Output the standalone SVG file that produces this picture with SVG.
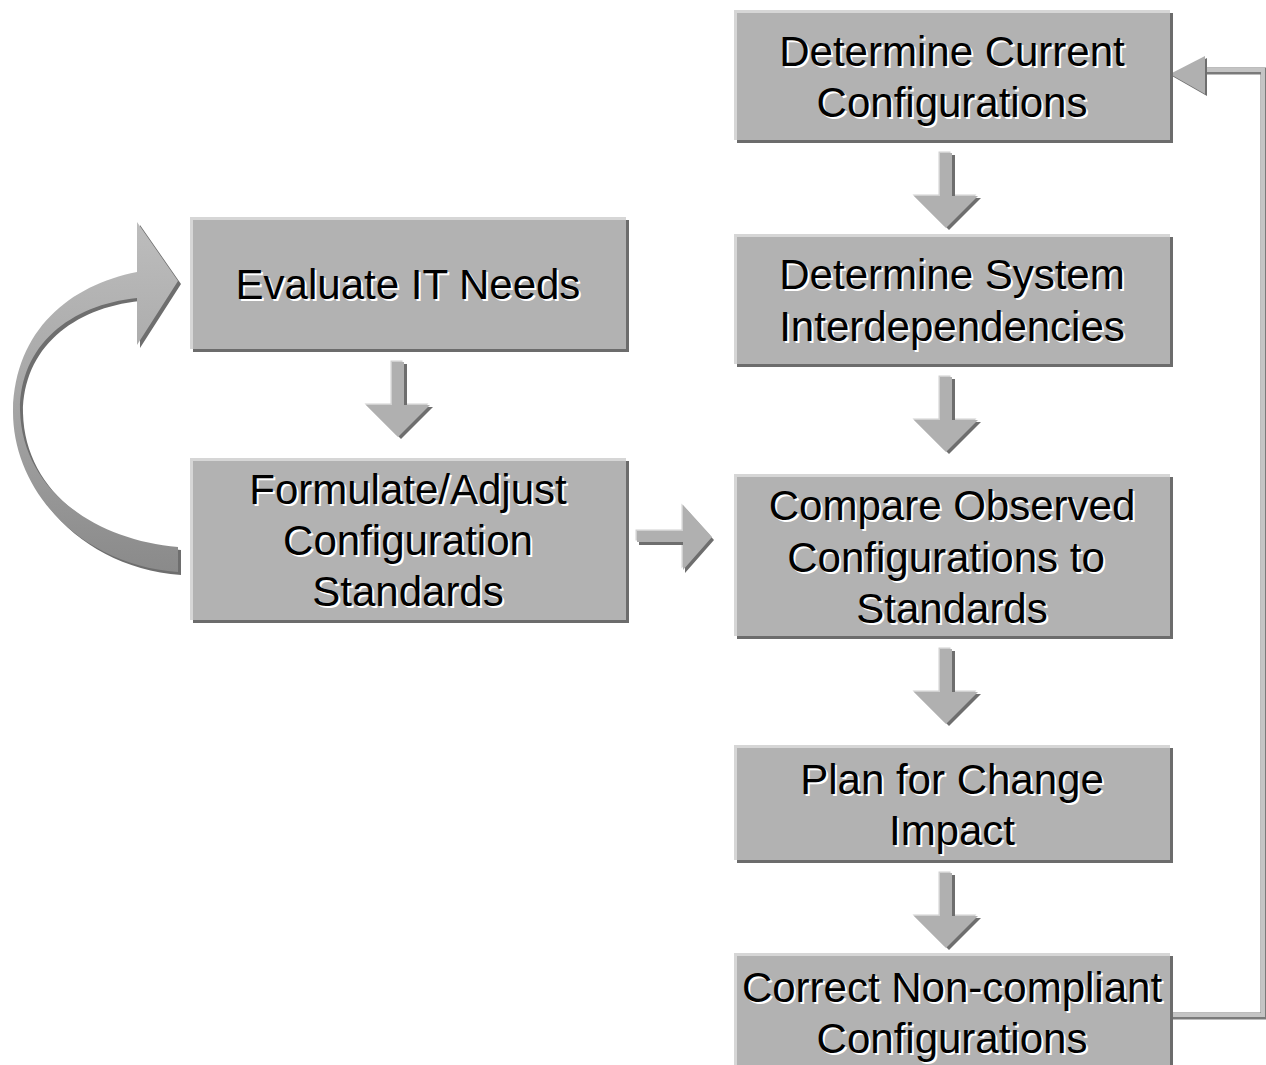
<svg xmlns="http://www.w3.org/2000/svg" width="1266" height="1065" viewBox="0 0 1266 1065">
<defs>
<style>
.sh{fill:#6c6c6c}
.bx{fill:#b2b2b2}
.hl{stroke:#d6d6d6;stroke-width:3;fill:none}
.t{font-family:"Liberation Sans",Arial,sans-serif;font-size:42px;text-anchor:middle}
.tw{fill:#ffffff}
.tb{fill:#000000}
.ar{fill:#b0b0b0}
.ad{fill:#6e6e6e}
.al{fill:#d0d0d0}
</style>
<linearGradient id="cg" x1="0" y1="0" x2="0" y2="1">
<stop offset="0" stop-color="#bdbdbd"/>
<stop offset="0.5" stop-color="#a6a6a6"/>
<stop offset="1" stop-color="#8a8a8a"/>
</linearGradient>
<path id="da" d="M-6,0 L6,0 L6,43 L32,43 L0,75 L-32,43 L-6,43Z"/>
<path id="ra" d="M0,-6 L46,-6 L46,-32 L75,0 L46,33 L46,5 L0,5Z"/>
</defs>
<rect width="1266" height="1065" fill="#ffffff"/>

<g id="connectors">
<!-- feedback line -->
<polyline points="1170,1016 1264,1016 1264,71 1205,71" fill="none" stroke="#7a7a7a" stroke-width="7"/>
<polyline points="1170,1015 1263,1015 1263,70 1205,70" fill="none" stroke="#c4c4c4" stroke-width="4"/>
<polygon points="1172,76 1207,58 1207,96" class="ad"/>
<polygon points="1170,74 1205,56 1205,94" class="ar"/>
<!-- down arrows -->
<g transform="translate(946,153)"><use href="#da" class="al" x="-1.5" y="-1.5"/><use href="#da" class="ad" x="3" y="2"/><use href="#da" class="ar"/></g>
<g transform="translate(946,377)"><use href="#da" class="al" x="-1.5" y="-1.5"/><use href="#da" class="ad" x="3" y="2"/><use href="#da" class="ar"/></g>
<g transform="translate(946,649)"><use href="#da" class="al" x="-1.5" y="-1.5"/><use href="#da" class="ad" x="3" y="2"/><use href="#da" class="ar"/></g>
<g transform="translate(946,873)"><use href="#da" class="al" x="-1.5" y="-1.5"/><use href="#da" class="ad" x="3" y="2"/><use href="#da" class="ar"/></g>
<g transform="translate(398,362)"><use href="#da" class="al" x="-1.5" y="-1.5"/><use href="#da" class="ad" x="3" y="2"/><use href="#da" class="ar"/></g>
<!-- right arrow -->
<g transform="translate(637,537)"><use href="#ra" class="al" x="-1.5" y="-1.5"/><use href="#ra" class="ad" x="2" y="3"/><use href="#ra" class="ar"/></g>
<!-- curved arrow -->
<path d="M140,275 L140,225 L181,284 L140,348 L140,301 C73,308 23,348 23,413 C25,493 98,543 181,550 L181,575 C83,568 15,493 16,413 C18,333 73,288 140,275Z" class="ad"/>
<path d="M137,272 L137,222 L178,281 L137,345 L137,298 C70,305 20,345 20,410 C22,490 95,540 178,547 L178,572 C80,565 12,490 13,410 C15,330 70,285 137,272Z" fill="url(#cg)"/>
</g>

<g id="n1">
<rect x="737" y="13" width="436" height="130" class="sh"/>
<rect x="734" y="10" width="436" height="130" class="bx"/>
<polyline points="735.5,140 735.5,11.5 1170,11.5" class="hl"/>
<text class="t tw" x="954" y="68">Determine Current</text>
<text class="t tw" x="954" y="119">Configurations</text>
<text class="t tb" x="952" y="66">Determine Current</text>
<text class="t tb" x="952" y="117">Configurations</text>
</g>

<g id="n2">
<rect x="737" y="237" width="436" height="130" class="sh"/>
<rect x="734" y="234" width="436" height="130" class="bx"/>
<polyline points="735.5,364 735.5,235.5 1170,235.5" class="hl"/>
<text class="t tw" x="954" y="291">Determine System</text>
<text class="t tw" x="954" y="343">Interdependencies</text>
<text class="t tb" x="952" y="289">Determine System</text>
<text class="t tb" x="952" y="341">Interdependencies</text>
</g>

<g id="n3">
<rect x="737" y="477" width="436" height="162" class="sh"/>
<rect x="734" y="474" width="436" height="162" class="bx"/>
<polyline points="735.5,636 735.5,475.5 1170,475.5" class="hl"/>
<text class="t tw" x="954" y="522">Compare Observed</text>
<text class="t tw" x="948" y="574">Configurations to</text>
<text class="t tw" x="954" y="625">Standards</text>
<text class="t tb" x="952" y="520">Compare Observed</text>
<text class="t tb" x="946" y="572">Configurations to</text>
<text class="t tb" x="952" y="623">Standards</text>
</g>

<g id="n4">
<rect x="737" y="748" width="436" height="115" class="sh"/>
<rect x="734" y="745" width="436" height="115" class="bx"/>
<polyline points="735.5,860 735.5,746.5 1170,746.5" class="hl"/>
<text class="t tw" x="954" y="796">Plan for Change</text>
<text class="t tw" x="954" y="847">Impact</text>
<text class="t tb" x="952" y="794">Plan for Change</text>
<text class="t tb" x="952" y="845">Impact</text>
</g>

<g id="n5">
<rect x="737" y="956" width="436" height="115" class="sh"/>
<rect x="734" y="953" width="436" height="115" class="bx"/>
<polyline points="735.5,1068 735.5,954.5 1170,954.5" class="hl"/>
<text class="t tw" x="954" y="1004">Correct Non-compliant</text>
<text class="t tw" x="954" y="1055">Configurations</text>
<text class="t tb" x="952" y="1002">Correct Non-compliant</text>
<text class="t tb" x="952" y="1053">Configurations</text>
</g>

<g id="n6">
<rect x="193" y="220" width="436" height="132" class="sh"/>
<rect x="190" y="217" width="436" height="132" class="bx"/>
<polyline points="191.5,349 191.5,218.5 626,218.5" class="hl"/>
<text class="t tw" x="410" y="301">Evaluate IT Needs</text>
<text class="t tb" x="408" y="299">Evaluate IT Needs</text>
</g>

<g id="n7">
<rect x="193" y="461" width="436" height="162" class="sh"/>
<rect x="190" y="458" width="436" height="162" class="bx"/>
<polyline points="191.5,620 191.5,459.5 626,459.5" class="hl"/>
<text class="t tw" x="410" y="506">Formulate/Adjust</text>
<text class="t tw" x="410" y="557">Configuration</text>
<text class="t tw" x="410" y="608">Standards</text>
<text class="t tb" x="408" y="504">Formulate/Adjust</text>
<text class="t tb" x="408" y="555">Configuration</text>
<text class="t tb" x="408" y="606">Standards</text>
</g>
</svg>
